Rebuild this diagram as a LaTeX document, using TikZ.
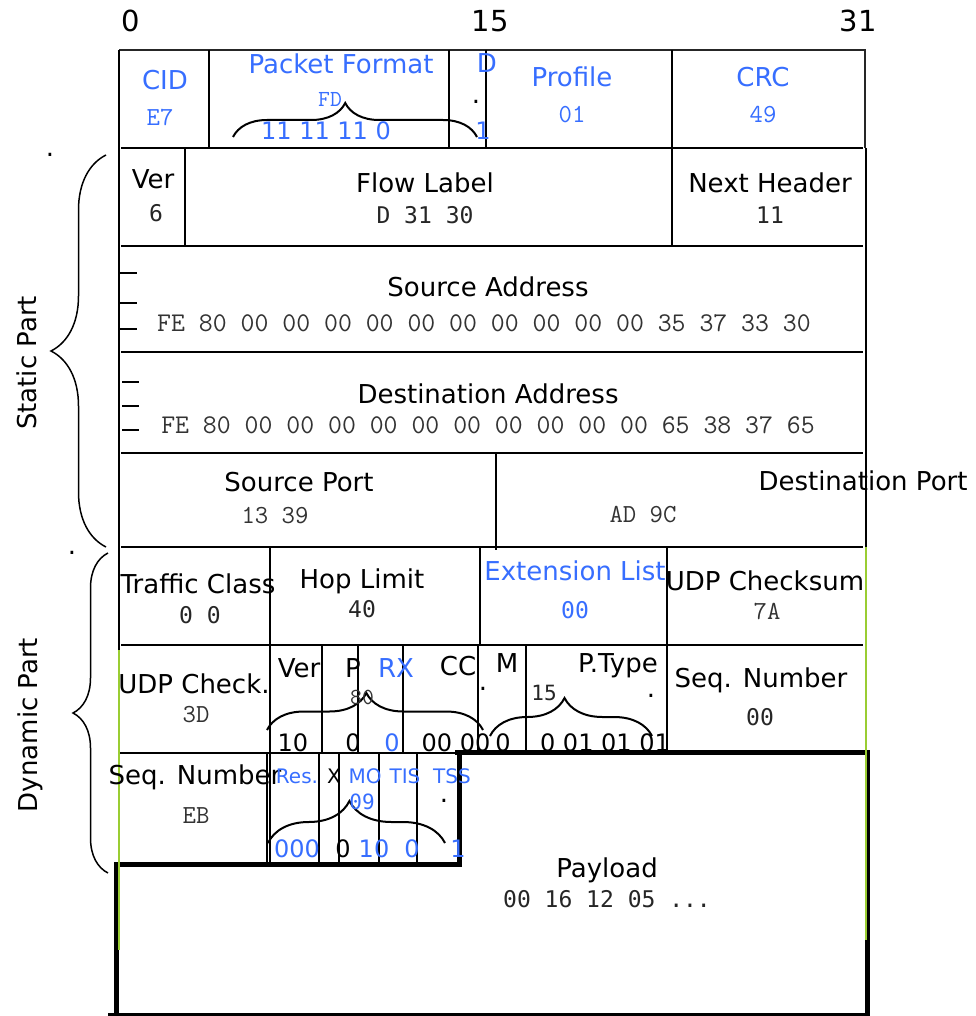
\documentclass[tikz,border=0pt]{standalone}
\usepackage{fontspec}
\setmainfont{DejaVu Sans}
\newfontfamily\hexmono{Latin Modern Mono}
\newfontfamily\sansmono{DejaVu Sans Mono}
\usetikzlibrary{decorations.pathreplacing}
\definecolor{fieldblue}{RGB}{55,110,255}
\definecolor{edgegreen}{RGB}{154,205,50}

\begin{document}
\begin{tikzpicture}[x=1pt,y=-1pt,line width=2pt,
  lbl/.style={anchor=base,inner sep=0pt,font=\fontsize{26}{28}\selectfont},
  lblsm/.style={anchor=base,inner sep=0pt,font=\fontsize{20}{22}\selectfont},
  stray/.style={anchor=base,inner sep=0pt,font=\fontsize{26}{28}\selectfont,text height=3pt,text depth=0pt},
  topnum/.style={anchor=base,inner sep=0pt,font=\fontsize{29}{31}\selectfont},
  bits/.style={anchor=base,inner sep=0pt,font=\fontsize{24}{26}\selectfont},
  hex/.style={anchor=base,inner sep=0pt,text=black!80,font=\fontsize{26}{28}\hexmono},
  hexbig/.style={anchor=base,inner sep=0pt,text=black!80,font=\fontsize{27}{29}\hexmono},
  hexsm/.style={anchor=base,inner sep=0pt,text=black!80,font=\fontsize{23}{25}\hexmono},
  smono/.style={anchor=base,inner sep=0pt,text=black!85,font=\fontsize{23}{25}\sansmono},
  smonosm/.style={anchor=base,inner sep=0pt,text=black!85,font=\fontsize{21}{23}\sansmono},
  fld/.style={text=fieldblue},
  curly/.style={decorate,decoration={brace,amplitude=#1,aspect=0.46}},
  bigcurly/.style={decorate,decoration={brace,amplitude=#1,aspect=0.5},line width=1.5pt},
  heavy/.style={line width=5pt},
  gline/.style={draw=edgegreen,line width=2pt}]
\useasboundingbox (0,0) rectangle (975,1016);

% grid of the header
\draw[black!85] (119,50) -- (865,50) -- (865,148);
\draw (119,50) -- (119,864);
\foreach \y in {148,246,352,453,547,645}
  \draw (121,\y) -- (863,\y);
\draw (119,753) -- (455,753);
\draw (866,148) -- (866,752);
\foreach \x in {209,449,486,672} \draw (\x,50) -- (\x,148);
\foreach \x in {185,672} \draw (\x,148) -- (\x,246);
\draw (496,453) -- (496,550);
\foreach \x in {270,480,667} \draw (\x,547) -- (\x,645);
\foreach \x in {270,322,358,403,478,526,667} \draw (\x,645) -- (\x,753);
\foreach \x in {267,270,319,339,379,417} \draw[line width=1.5pt] (\x,753) -- (\x,864);
\foreach \y in {273,303,329} \draw (120,\y) -- (137,\y);
\foreach \y in {382,406,430} \draw (122,\y) -- (139,\y);

% payload frame
\draw[heavy] (455,752) -- (870,752);
\draw[heavy] (459,752) -- (459,866);
\draw[heavy] (117,864) -- (462,864);
\draw[heavy] (116,862) -- (116,1016);
\draw[heavy] (867,750) -- (867,1016);
\draw[line width=3pt] (108,1014) -- (870,1014);
\draw[gline] (866,547) -- (866,940);
\draw[gline] (119,650) -- (119,950);

% braces
\draw[curly=34] (233,137) -- (477,137);
\draw[curly=37] (267,730) -- (483,730);
\draw[curly=38] (490,736) -- (652,736);
\draw[curly=42] (268,843) -- (445,843);
\draw[bigcurly=55] (106,547) -- (106,155);
\draw[bigcurly=35] (108,873) -- (108,553);

% bit positions
\node[topnum] (b0) at (131,32) {0};
\node[topnum] (b15) at (490,32) {15};
\node[topnum] (b31) at (858,32) {31};

% row 1
\node[lbl,fld] (cid) at (165,90) {CID};
\node[hex,fld] (cidv) at (160,126) {E7};
\node[lbl,fld] (pf) at (341,74) {Packet Format};
\node[hexsm,fld] (pfv) at (330,107) {FD};
\node[bits,fld] (pfb) at (326,140) {11 11 11 0};
\node[lbl,fld] (d) at (487,73) {D};
\node[stray] (ddot) at (476,104) {.};
\node[bits,fld] (db) at (483,140) {1};
\node[lbl,fld] (prof) at (572,87) {Profile};
\node[hex,fld] (profv) at (572,123) {01};
\node[lbl,fld] (crc) at (763,87) {CRC};
\node[hex,fld] (crcv) at (763,123) {49};

% row 2
\node[lbl] (ver) at (153,189) {Ver};
\node[smono] (verv) at (156,222) {6};
\node[lbl] (flow) at (425,193) {Flow Label};
\node[smono] (flowv) at (425,223) {D 31 30};
\node[lbl] (nh) at (770,193) {Next Header};
\node[smono] (nhv) at (770,223) {11};

% rows 3 and 4
\node[lbl] (src) at (488,296) {Source Address};
\node[hexbig] (srcv) at (484,331) {FE 80 00 00 00 00 00 00 00 00 00 00 35 37 33 30};
\node[lbl] (dst) at (488,403) {Destination Address};
\node[hexbig] (dstv) at (488,433) {FE 80 00 00 00 00 00 00 00 00 00 00 65 38 37 65};

% row 5
\node[lbl] (sp) at (299,491) {Source Port};
\node[hex] (spv) at (275,523) {13 39};
\node[lbl] (dp) at (863,490) {Destination Port};
\node[hex] (dpv) at (643,522) {AD 9C};

% row 6
\node[lbl] (tc) at (198,593) {Traffic Class};
\node[smono] (tcv) at (200,623) {0 0};
\node[lbl] (hop) at (362,588) {Hop Limit};
\node[smono] (hopv) at (362,617) {40};
\node[lbl,fld] (ext) at (575,580) {Extension List};
\node[smono,fld] (extv) at (575,618) {00};
\node[lbl] (udp) at (765,590) {UDP Checksum};
\node[hex] (udpv) at (767,619) {7A};

% row 7
\node[lbl] (udpc) at (194,693) {UDP Check.};
\node[hex] (udpcv) at (196,722) {3D};
\node[lbl] (ver2) at (299,677) {Ver};
\node[lbl] (p) at (353,677) {P};
\node[lbl,fld] (rx) at (396,677) {RX};
\node[lbl] (cc) at (458,675) {CC};
\node[lbl] (m) at (507,672) {M};
\node[lbl] (pt) at (618,672) {P.Type};
\node[hexsm] (flagv) at (362,704) {80};
\node[smonosm] (ptv) at (544,700) {15};
\node[stray] (dot1) at (483,690) {.};
\node[stray] (dot2) at (651,697) {.};
\node[bits] (bver) at (293,751) {10};
\node[bits] (bp) at (353,751) {0};
\node[bits,fld] (brx) at (392,751) {0};
\node[bits] (bcc) at (456,751) {00 00};
\node[bits] (bm) at (503,751) {0};
\node[bits] (bpt) at (605,751) {0 01 01 01};
\node[lbl] (seq) at (761,687) {Seq. Number};
\node[smono] (seqv) at (760,725) {00};

% row 8
\node[lbl] (seq2) at (195,784) {Seq. Number};
\node[hex] (seq2v) at (196,823) {EB};
\node[lblsm,fld] (res) at (297,783) {Res.};
\node[lblsm] (x) at (334,783) {X};
\node[lblsm,fld] (mo) at (365,783) {MO};
\node[lblsm,fld] (tis) at (405,783) {TIS};
\node[lblsm,fld] (tss) at (452,783) {TSS};
\node[smonosm,fld] (optv) at (362,809) {09};
\node[stray] (dot3) at (444,802) {.};
\node[bits,fld] (bres) at (297,857) {000};
\node[bits] (bx) at (343,857) {0};
\node[bits,fld] (bmo) at (374,857) {10};
\node[bits,fld] (btis) at (412,857) {0};
\node[bits,fld] (btss) at (458,857) {1};

% payload
\node[lbl] (pay) at (607,877) {Payload};
\node[smono] (payv) at (607,907) {00 16 12 05 ...};

% parts
\node[lbl,rotate=90,anchor=center] (stat) at (27,363) {Static Part};
\node[lbl,rotate=90,anchor=center] (dyn) at (30,725) {Dynamic Part};
\node[stray] (sdot) at (50,157) {.};
\node[stray] (ddot2) at (72,554) {.};
\end{tikzpicture}
\end{document}
